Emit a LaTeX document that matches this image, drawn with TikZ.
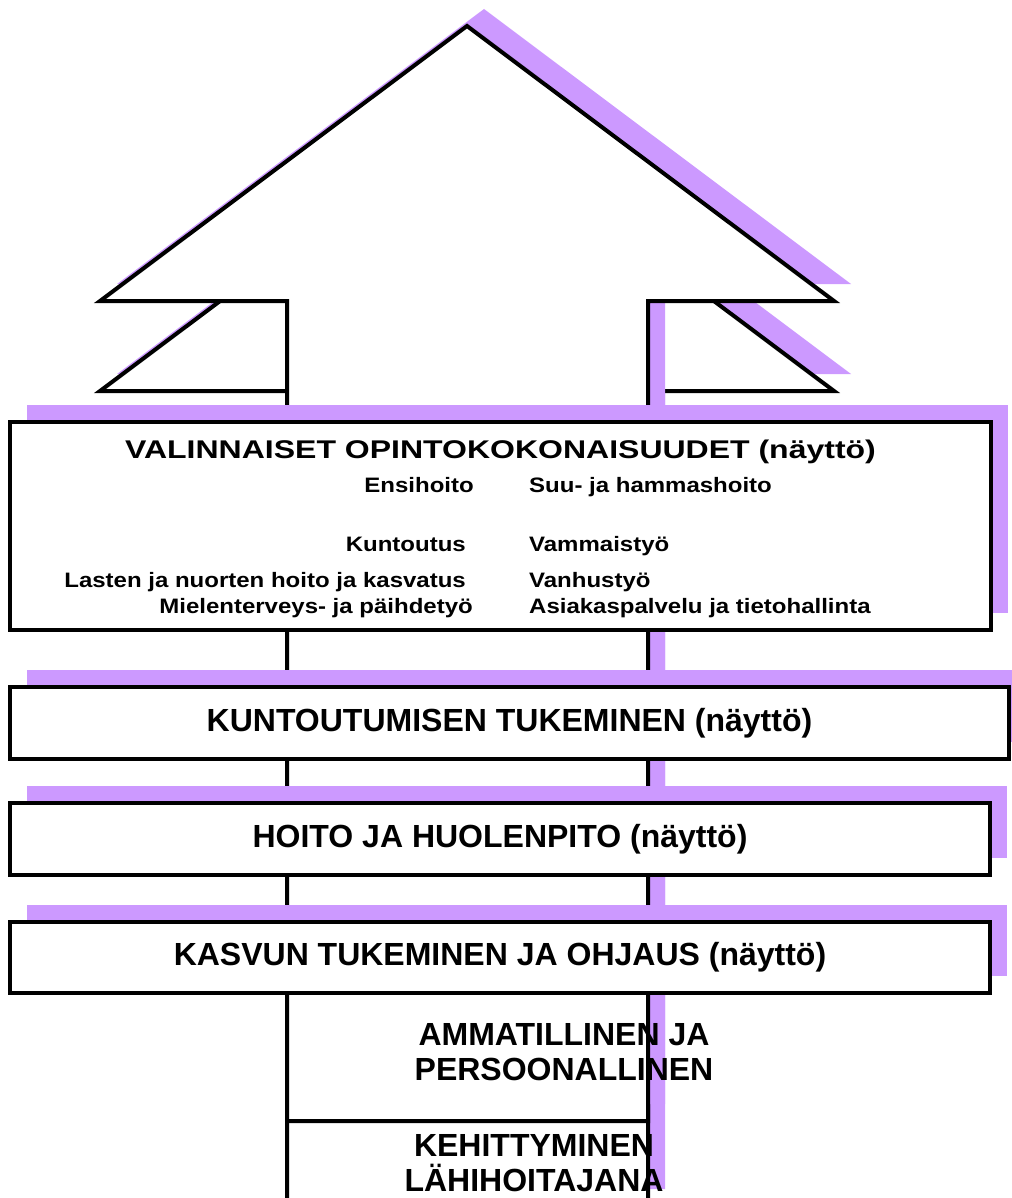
\documentclass[tikz,border=0pt]{standalone}
\usepackage{fontspec}
\setmainfont{Liberation Sans}
\usetikzlibrary{shadows}
\definecolor{lila}{HTML}{CC99FF}
\newcommand{\matala}[2]{\scalebox{1}[#1]{#2}}

\begin{document}
\begin{tikzpicture}[x=1pt, y=-1pt,
  varjo/.style={drop shadow={shadow xshift=17pt, shadow yshift=17pt, fill=lila, opacity=1}},
  nuoli/.style={draw, line width=4pt, fill=white, varjo},
  laatikko/.style={draw, line width=3.5pt, fill=white, varjo, inner sep=0pt, font=\bfseries\fontsize{32}{38}\selectfont},
  pieni/.style={inner sep=0pt, font=\bfseries\fontsize{24}{28}\selectfont},
  teksti/.style={inner sep=0pt, align=center, font=\bfseries\fontsize{32}{35}\selectfont}]
\useasboundingbox (0,0) rectangle (1011,1198);
\draw[nuoli] (467,116) -- (834,391) -- (648,391) -- (648,1206) -- (287,1206) -- (287,391) -- (100,391) -- cycle;
\draw[nuoli] (467,26) -- (834,301) -- (648,301) -- (648,1121) -- (287,1121) -- (287,301) -- (100,301) -- cycle;
\node[laatikko, minimum width=981pt, minimum height=208pt] (valinnaiset) at (500.5,526) {};
\node[laatikko, minimum width=999pt, minimum height=72pt] (kuntoutuminen) at (509.5,723) {KUNTOUTUMISEN TUKEMINEN (näyttö)};
\node[laatikko, minimum width=980pt, minimum height=72pt] (hoito) at (500,839) {HOITO JA HUOLENPITO (näyttö)};
\node[laatikko, minimum width=980pt, minimum height=71pt] (kasvu) at (500,957.5) {KASVUN TUKEMINEN JA OHJAUS (näyttö)};
\node[inner sep=0pt, anchor=base, font=\bfseries\fontsize{32}{38}\selectfont] (otsikko) at (500.5,458) {\matala{0.8}{VALINNAISET OPINTOKOKONAISUUDET (näyttö)}};
\node[pieni, anchor=base east] (ensihoito) at (474,492) {\matala{0.87}{Ensihoito}};
\node[pieni, anchor=base east] (kuntoutus) at (466,551) {\matala{0.87}{Kuntoutus}};
\node[pieni, anchor=base east] (lasten) at (466,587) {\matala{0.87}{Lasten ja nuorten hoito ja kasvatus}};
\node[pieni, anchor=base east] (mielenterveys) at (473,613) {\matala{0.87}{Mielenterveys- ja päihdetyö}};
\node[pieni, anchor=base west] (suu) at (529,492) {\matala{0.87}{Suu- ja hammashoito}};
\node[pieni, anchor=base west] (vammais) at (529,551) {\matala{0.87}{Vammaistyö}};
\node[pieni, anchor=base west] (vanhus) at (529,587) {\matala{0.87}{Vanhustyö}};
\node[pieni, anchor=base west] (asiakas) at (529,613) {\matala{0.87}{Asiakaspalvelu ja tietohallinta}};
\node[teksti] (ammatillinen) at (564,1052) {AMMATILLINEN JA\\PERSOONALLINEN};
\node[teksti] (kehittyminen) at (534,1163) {KEHITTYMINEN\\LÄHIHOITAJANA};
\end{tikzpicture}
\end{document}
